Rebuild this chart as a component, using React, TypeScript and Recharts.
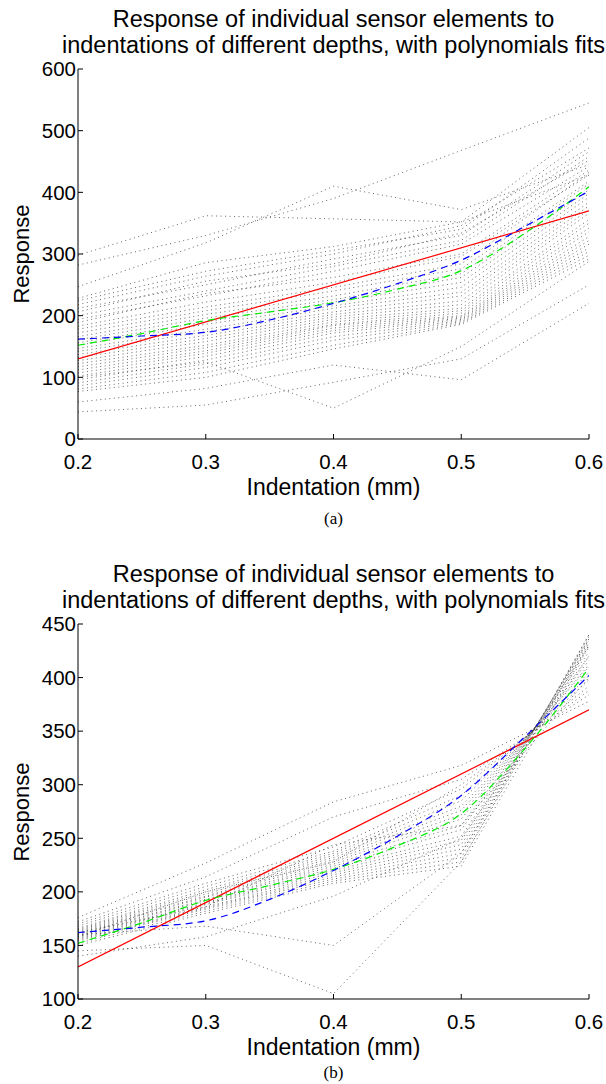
import React from "react";
import { LineChart, Line, XAxis, YAxis } from "recharts";

// indentation depths at which every sensor element was sampled (mm)
const indentation = [0.2, 0.3, 0.4, 0.5, 0.6];

// (a) raw response of each sensor element, one row per element
const rawResponses: number[][] = [
  [298, 362, 357, 352, 428],
  [282, 330, 390, 468, 545],
  [247, 318, 410, 372, 445],
  [228, 286, 312, 352, 505],
  [224, 272, 306, 340, 488],
  [218, 264, 300, 346, 472],
  [212, 250, 292, 330, 466],
  [206, 256, 284, 334, 452],
  [200, 240, 280, 322, 458],
  [194, 232, 272, 316, 442],
  [189, 236, 262, 300, 436],
  [183, 222, 254, 296, 428],
  [178, 214, 246, 284, 432],
  [172, 208, 240, 276, 418],
  [166, 202, 232, 268, 414],
  [161, 196, 226, 262, 404],
  [156, 190, 222, 254, 398],
  [152, 186, 216, 246, 392],
  [147, 178, 212, 238, 384],
  [142, 174, 206, 232, 378],
  [137, 168, 202, 224, 372],
  [132, 163, 198, 218, 366],
  [127, 158, 194, 212, 356],
  [122, 152, 190, 208, 350],
  [117, 148, 186, 204, 342],
  [112, 143, 184, 200, 336],
  [107, 139, 180, 198, 328],
  [102, 134, 176, 196, 322],
  [96, 128, 172, 194, 316],
  [91, 122, 166, 192, 310],
  [86, 116, 160, 190, 304],
  [81, 108, 152, 188, 298],
  [77, 100, 146, 186, 292],
  [100, 125, 50, 150, 288],
  [60, 82, 120, 96, 220],
  [44, 55, 92, 130, 250],
];

// (b) normalised response of each sensor element
const normalizedResponses: number[][] = [
  [176, 227, 284, 318, 378],
  [172, 214, 270, 305, 384],
  [145, 150, 105, 228, 440],
  [160, 168, 150, 236, 432],
  [140, 158, 196, 250, 420],
  [170, 208, 242, 296, 392],
  [168, 205, 238, 290, 398],
  [166, 202, 236, 285, 402],
  [165, 200, 234, 280, 405],
  [164, 198, 232, 276, 410],
  [163, 196, 230, 272, 412],
  [162, 195, 228, 268, 416],
  [161, 193, 226, 262, 420],
  [160, 192, 224, 258, 424],
  [159, 190, 222, 252, 428],
  [158, 189, 220, 248, 430],
  [157, 188, 218, 244, 434],
  [156, 186, 216, 240, 436],
  [155, 185, 214, 236, 438],
  [154, 184, 212, 232, 440],
  [152, 182, 210, 228, 436],
  [150, 180, 208, 224, 430],
  [158, 200, 228, 300, 388],
  [162, 186, 244, 262, 400],
];

// polynomial fits (same in both panels)
const fitIndentation = [0.2, 0.25, 0.3, 0.35, 0.4, 0.45, 0.5, 0.55, 0.6];
const linearFit = [130, 160, 190, 220, 250, 280, 310, 340, 370];
const blueFit = [162, 167, 173, 193, 220, 252, 290, 345, 402];
const greenFit = [152, 171, 192, 206, 221, 243, 273, 334, 409];

const xTicks = [0.2, 0.3, 0.4, 0.5, 0.6];
const rawTicks = [0, 100, 200, 300, 400, 500, 600];
const normTicks = [100, 150, 200, 250, 300, 350, 400, 450];

const FONT = '"Liberation Sans", Arial, Helvetica, sans-serif';
const tickStyle = { fill: "#000", fontSize: 20.5, fontFamily: FONT };

const toPoints = (xs: number[], ys: number[]) => ys.map((y, i) => ({ x: xs[i], y }));

interface PanelProps {
  top: number;
  plotHeight: number;
  sensors: number[][];
  yDomain: [number, number];
  yTicks: number[];
  caption: string;
  captionOffset: number;
}

const PLOT_TOP = 69;
const PLOT_LEFT = 78;
const PLOT_RIGHT = 589;
const XAXIS_H = 45;

const Panel: React.FC<PanelProps> = ({ top, plotHeight, sensors, yDomain, yTicks, caption, captionOffset }) => {
  const chartH = PLOT_TOP + plotHeight + XAXIS_H;
  const plotBottom = PLOT_TOP + plotHeight;
  const center = (PLOT_LEFT + PLOT_RIGHT) / 2;

  return (
    <div style={{ position: "absolute", left: 0, top, width: 606, height: chartH + 70 }}>
      {/* title */}
      <div
        style={{
          position: "absolute",
          left: center - 300,
          width: 600,
          top: 6,
          textAlign: "center",
          fontFamily: FONT,
          fontSize: 23.5,
          lineHeight: "26px",
          whiteSpace: "nowrap",
          color: "#000",
        }}
      >
        Response of individual sensor elements to
        <br />
        indentations of different depths, with polynomials fits
      </div>

      <div style={{ position: "absolute", left: 0, top: 0 }}>
        <LineChart width={606} height={chartH} margin={{ top: PLOT_TOP, right: 606 - PLOT_RIGHT, bottom: 0, left: 0 }}>
          <XAxis
            dataKey="x"
            type="number"
            domain={[0.2, 0.6]}
            ticks={xTicks}
            height={XAXIS_H}
            tickSize={-5}
            tickMargin={20}
            tick={tickStyle}
            stroke="#000"
            axisLine={{ stroke: "#000", strokeWidth: 1 }}
            tickLine={{ stroke: "#000" }}
            allowDataOverflow
          />
          <XAxis
            xAxisId="top"
            orientation="top"
            dataKey="x"
            type="number"
            domain={[0.2, 0.6]}
            ticks={xTicks}
            height={0}
            tickSize={-5}
            tick={false}
            axisLine={{ stroke: "#000", strokeWidth: 1 }}
            tickLine={{ stroke: "#000" }}
            allowDataOverflow
          />
          <YAxis
            type="number"
            domain={yDomain}
            ticks={yTicks}
            width={PLOT_LEFT}
            tickSize={-5}
            tickMargin={7}
            tick={tickStyle}
            axisLine={{ stroke: "#000", strokeWidth: 1 }}
            tickLine={{ stroke: "#000" }}
            allowDataOverflow
          />
          <YAxis
            yAxisId="right"
            orientation="right"
            type="number"
            domain={yDomain}
            ticks={yTicks}
            width={0}
            tickSize={-5}
            tick={false}
            axisLine={{ stroke: "#000", strokeWidth: 1 }}
            tickLine={{ stroke: "#000" }}
            allowDataOverflow
          />

          {sensors.map((row, i) => (
            <Line
              key={i}
              data={toPoints(indentation, row)}
              dataKey="y"
              type="linear"
              stroke="#222"
              strokeWidth={0.7}
              strokeDasharray="1 3.5"
              dot={false}
              activeDot={false}
              isAnimationActive={false}
            />
          ))}

          <Line
            data={toPoints([fitIndentation[0], fitIndentation[8]], [linearFit[0], linearFit[8]])}
            dataKey="y"
            type="linear"
            stroke="#ff0000"
            strokeWidth={1.2}
            dot={false}
            activeDot={false}
            isAnimationActive={false}
          />
          <Line
            data={toPoints(fitIndentation, greenFit)}
            dataKey="y"
            type="monotone"
            stroke="#00ee00"
            strokeWidth={1.2}
            strokeDasharray="7 5"
            dot={false}
            activeDot={false}
            isAnimationActive={false}
          />
          <Line
            data={toPoints(fitIndentation, blueFit)}
            dataKey="y"
            type="monotone"
            stroke="#0000ff"
            strokeWidth={1.2}
            strokeDasharray="7 5"
            dot={false}
            activeDot={false}
            isAnimationActive={false}
          />
        </LineChart>
      </div>

      {/* y label */}
      <div
        style={{
          position: "absolute",
          left: 22,
          top: PLOT_TOP + plotHeight / 2,
          transform: "translate(-50%, -50%) rotate(-90deg)",
          fontFamily: FONT,
          fontSize: 22,
          whiteSpace: "nowrap",
          color: "#000",
        }}
      >
        Response
      </div>

      {/* x label */}
      <div
        style={{
          position: "absolute",
          left: center,
          top: plotBottom + 48,
          transform: "translate(-50%, -50%)",
          fontFamily: FONT,
          fontSize: 23,
          lineHeight: "24px",
          whiteSpace: "nowrap",
          color: "#000",
        }}
      >
        Indentation (mm)
      </div>

      {/* caption */}
      <div
        style={{
          position: "absolute",
          left: center,
          top: plotBottom + captionOffset,
          transform: "translate(-50%, -50%)",
          fontFamily: '"Liberation Serif", "Times New Roman", serif',
          fontSize: 17,
          lineHeight: "20px",
          whiteSpace: "nowrap",
          color: "#000",
        }}
      >
        {caption}
      </div>
    </div>
  );
}

export default function App() {
  return (
    <div style={{ position: "absolute", left: 0, top: 0, width: 606, height: 1084, background: "#fff", overflow: "hidden" }}>
      <Panel top={0} plotHeight={370} sensors={rawResponses} yDomain={[0, 600]} yTicks={rawTicks} caption="(a)" captionOffset={80} />
      <Panel top={555} plotHeight={375} sensors={normalizedResponses} yDomain={[100, 450]} yTicks={normTicks} caption="(b)" captionOffset={74} />
    </div>
  );
}
